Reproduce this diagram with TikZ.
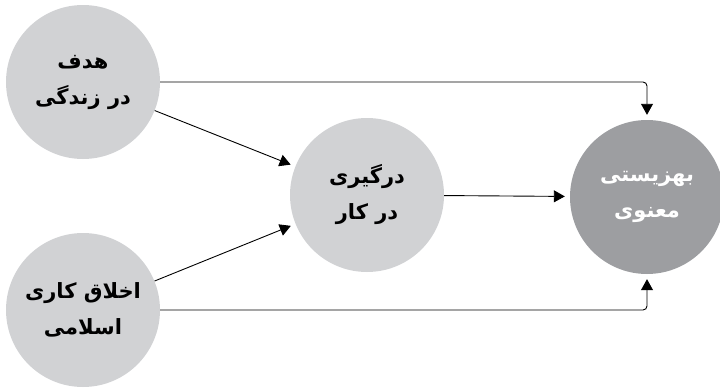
\documentclass[tikz,border=0pt]{standalone}
\usepackage{fontspec}
\newfontfamily\farsi[Script=Arabic]{DejaVu Sans}
\TeXXeTstate=1
\usetikzlibrary{arrows.meta}
\definecolor{lightdisc}{HTML}{D1D2D4}
\definecolor{darkdisc}{HTML}{9D9EA1}
\begin{document}
\begin{tikzpicture}[x=1pt, y=-1pt,
    disc/.style={circle, fill=lightdisc, minimum size=154pt, inner sep=0pt,
        align=center, font=\farsi\bfseries\fontsize{21}{36}\selectfont},
    arr/.style={-{Triangle[width=12pt,length=11pt]}, line width=0.9pt, shorten >=5pt}]
    \useasboundingbox (0,0) rectangle (720,388);
    % the three inputs on the left and in the middle
    \node[disc] (goal) at (83,82) {\beginR هدف\endR\\\beginR در زندگی\endR};
    \node[disc] (ethic) at (83,310) {\beginR اخلاق کاری\endR\\\beginR اسلامی\endR};
    \node[disc] (engage) at (367,195) {\beginR درگیری\endR\\\beginR در کار\endR};
    \node[disc, fill=darkdisc, text=white] (well) at (647,197) {\beginR بهزیستی\endR\\\beginR معنوی\endR};
    \draw[arr] (goal) -- (engage);
    \draw[arr] (ethic) -- (engage);
    \draw[arr] (engage) -- (well);
    \draw[arr, rounded corners=4pt] (goal.east) -| (well.north);
    \draw[arr, rounded corners=4pt] (ethic.east) -| (well.south);
\end{tikzpicture}
\end{document}
